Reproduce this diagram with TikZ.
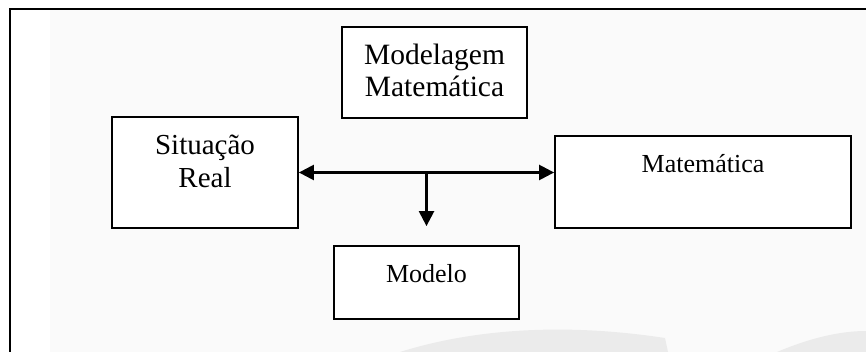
\documentclass[tikz,border=0pt]{standalone}
\usepackage{fontspec}
\setmainfont{Liberation Serif}
\usetikzlibrary{arrows.meta}

\begin{document}
\begin{tikzpicture}[x=1pt, y=-1pt, >={Triangle[length=15pt, width=15pt]}, font=\fontsize{26}{33}\selectfont]
		\tikzstyle{block}=[draw=black, line width=1.8pt, rectangle, fill=white, inner sep=0pt, align=center]
		\tikzstyle{link}=[line width=2.4pt]
		\tikzstyle{wmark}=[fill=black!8]
		
		\useasboundingbox (0,0) rectangle (866,352);
		\fill[black!2] (50,10) rectangle (866,352);
		\fill[wmark] (400,352) .. controls (470,330) and (560,322) .. (665,338) -- (668,352) -- cycle;
		\fill[wmark] (777,352) .. controls (810,338) and (840,331) .. (866,331) -- (866,352) -- cycle;
		\draw[line width=2pt] (9.5,352) -- (9.5,9) -- (866,9);
		
		\node[block, minimum width=185pt, minimum height=91pt, text height=55pt, text depth=6pt, font=\fontsize{29.5}{32}\selectfont] (modmat) at (434.5,72.5) {Modelagem\\Matemática};
		\node[block, minimum width=186pt, minimum height=111pt, text height=55pt, text depth=24pt, font=\fontsize{29}{33}\selectfont] (sitreal) at (205,172.5) {Situação\\Real};
		\node[block, minimum width=296pt, minimum height=92pt, text height=20pt, text depth=38pt] (mat) at (703,182) {Matemática};
		\node[block, minimum width=185pt, minimum height=73pt, text height=20pt, text depth=19pt] (modelo) at (426.5,282.5) {Modelo};
		\coordinate (junc) at (sitreal.east -| modelo.north);
		
		\draw[link, <->] (sitreal.east) -- (sitreal.east -| mat.west);
		\draw[link, ->, shorten >=19pt] (junc) -- (modelo.north);
	\end{tikzpicture}
\end{document}
